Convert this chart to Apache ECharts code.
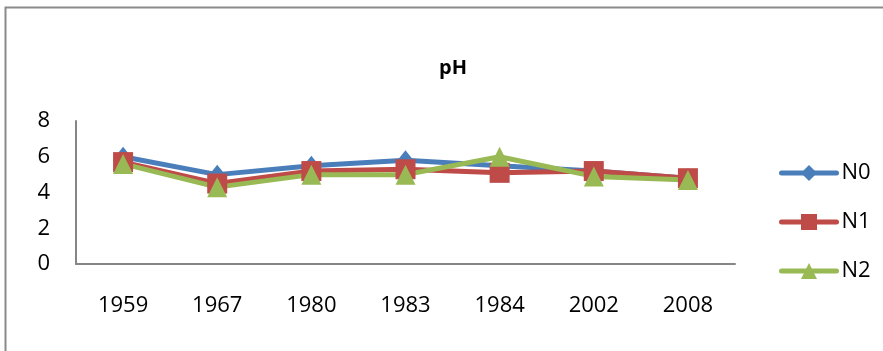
<!DOCTYPE html>
<html>
<head>
<meta charset="utf-8">
<style>
  html, body { margin: 0; padding: 0; background: #ffffff; }
  #chart { width: 883px; height: 351px; }
</style>
<script src="https://cdn.jsdelivr.net/npm/echarts@6/dist/echarts.min.js"></script>
</head>
<body>
<div id="chart"></div>
<script>
// Sampling years (categories) and pH readings per treatment
const years = ['1959', '1967', '1980', '1983', '1984', '2002', '2008'];
const n0 = [6.0, 5.0, 5.5, 5.8, 5.5, 5.2, 4.8];
const n1 = [5.7, 4.5, 5.2, 5.3, 5.1, 5.2, 4.8];
const n2 = [5.6, 4.3, 5.0, 5.0, 6.0, 4.9, 4.7];
const yTicks = [0, 2, 4, 6, 8];

const font = '"Open Sans", "Liberation Sans", sans-serif';
const chart = echarts.init(document.getElementById('chart'), null, { renderer: 'canvas' });

function lineSeries(name, data, color, symbol, size) {
  return {
    name: name,
    type: 'line',
    data: data,
    symbol: symbol,
    symbolSize: size,
    showAllSymbol: true,
    lineStyle: { color: color, width: 5 },
    itemStyle: { color: color, borderWidth: 0 },
    emphasis: { disabled: true },
    animation: false
  };
}

chart.setOption({
  backgroundColor: '#ffffff',
  animation: false,
  graphic: [{
    type: 'rect',
    shape: { x: 5.5, y: 7.5, width: 900, height: 400 },
    style: { fill: 'none', stroke: '#8a8a8a', lineWidth: 2 },
    silent: true,
    z: -1
  }],
  title: {
    text: 'pH',
    left: 448,
    top: 53,
    textAlign: 'center',
    textStyle: { fontFamily: font, fontSize: 20, fontWeight: 'bold', color: '#000' }
  },
  legend: {
    orient: 'vertical',
    left: 774,
    top: 157,
    itemWidth: 55,
    itemHeight: 20,
    itemGap: 27,
    lineStyle: { width: 5, cap: 'round' },
    textStyle: { fontFamily: font, fontSize: 22, color: '#000', padding: [0, 0, 0, 0] },
    data: ['N0', 'N1', 'N2']
  },
  grid: { left: 76, right: 148, top: 121, bottom: 87, containLabel: false },
  xAxis: {
    type: 'category',
    data: years,
    boundaryGap: true,
    axisLine: { lineStyle: { color: '#868686', width: 2 } },
    axisTick: { show: false },
    axisLabel: { fontFamily: font, fontSize: 22, color: '#000', margin: 31 },
    splitLine: { show: false }
  },
  yAxis: {
    type: 'value',
    min: yTicks[0],
    max: yTicks[yTicks.length - 1],
    interval: yTicks[1] - yTicks[0],
    axisLine: { show: true, lineStyle: { color: '#868686', width: 2 } },
    axisTick: { show: false },
    axisLabel: { fontFamily: font, fontSize: 22, color: '#000', margin: 26 },
    splitLine: { show: false }
  },
  series: [
    lineSeries('N0', n0, '#4a7ebb', 'diamond', [16, 20]),
    lineSeries('N1', n1, '#be4b48', 'rect', 20),
    lineSeries('N2', n2, '#98b954', 'triangle', 20)
  ]
});
</script>
</body>
</html>
